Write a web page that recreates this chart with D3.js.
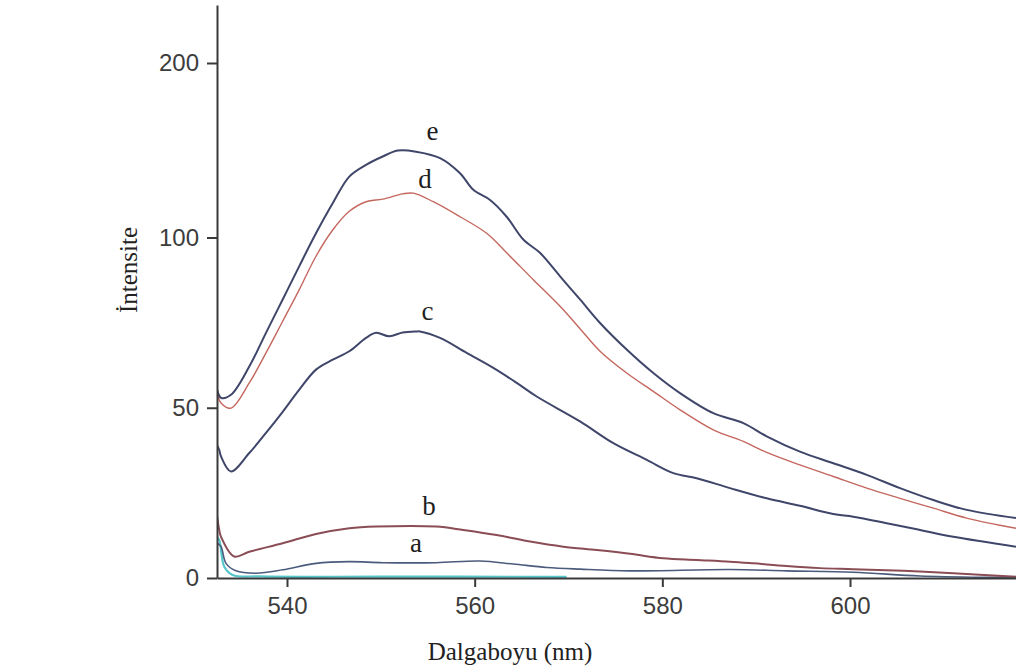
<!DOCTYPE html>
<html>
<head>
<meta charset="utf-8">
<script src="https://cdn.jsdelivr.net/npm/d3@7"></script>
<style>
  html, body { margin: 0; padding: 0; background: #ffffff; }
  svg { display: block; }
</style>
</head>
<body>
<svg id="chart" width="1016" height="672"></svg>
<script>
// ---- data (wavelength in nm, intensity) ----
const xTicks = [540, 560, 580, 600];
const yTicks = [0, 50, 100, 200];

const nmE = [532.54, 532.97, 534.03, 535.98, 537.76, 539.54, 541.31, 543.09, 544.87, 546.64, 548.42, 550.20, 551.80, 553.75, 556.31, 558.44, 559.86, 561.64, 563.41, 565.18, 566.96, 569.10, 571.23, 573.36, 576.20, 579.04, 581.88, 585.43, 588.63, 591.12, 594.66, 598.22, 601.78, 605.33, 608.88, 612.44, 617.69];
const valE = [55.5, 52.9, 53.8, 62.1, 72.0, 81.8, 91.6, 102.4, 119.6, 134.9, 141.6, 146.4, 149.8, 149.2, 145.5, 136.8, 127.3, 121.5, 111.9, 99.4, 95.5, 88.6, 81.8, 74.9, 67.1, 60.2, 54.3, 48.4, 45.5, 41.6, 37.1, 33.7, 30.3, 26.4, 22.9, 20.0, 17.6];

const nmD = [532.54, 532.97, 534.03, 535.98, 537.76, 539.54, 541.31, 543.09, 544.87, 546.64, 548.42, 550.20, 552.33, 553.46, 555.59, 558.44, 561.28, 563.41, 566.25, 569.10, 571.23, 573.36, 576.20, 579.04, 581.88, 585.43, 588.63, 591.12, 594.66, 598.22, 601.78, 605.33, 608.88, 612.44, 617.69];
const valD = [54.5, 51.4, 49.9, 57.3, 66.1, 75.4, 84.7, 94.5, 104.3, 115.0, 120.5, 122.0, 125.0, 125.4, 120.5, 111.9, 102.4, 95.5, 87.6, 79.8, 73.2, 66.6, 60.2, 54.8, 49.4, 43.5, 40.1, 36.9, 33.2, 29.8, 26.4, 23.4, 20.5, 17.6, 14.6];

const nmC = [532.54, 532.78, 532.97, 534.03, 535.98, 537.76, 539.54, 541.31, 543.09, 544.87, 546.64, 548.42, 549.49, 550.90, 552.33, 553.75, 554.17, 556.31, 559.15, 561.99, 564.48, 566.61, 571.23, 574.78, 578.34, 581.17, 583.66, 587.21, 591.12, 594.66, 598.22, 600.35, 603.91, 607.46, 611.01, 617.69];
const valC = [39.1, 37.6, 35.7, 31.3, 36.7, 42.6, 48.8, 55.3, 61.2, 64.1, 66.6, 70.5, 72.0, 71.0, 72.1, 72.4, 72.4, 70.5, 66.1, 61.7, 57.3, 53.3, 46.0, 39.6, 34.7, 30.8, 29.3, 26.4, 23.4, 21.2, 18.8, 18.0, 16.1, 14.1, 12.1, 9.2];

const nmB = [532.54, 532.78, 532.97, 534.38, 535.98, 539.54, 543.09, 546.64, 549.49, 555.88, 558.79, 562.35, 565.90, 569.45, 573.01, 576.56, 580.10, 583.66, 587.21, 589.70, 593.25, 596.80, 600.35, 605.68, 611.01, 617.69];
const valB = [18.5, 14.1, 12.1, 6.3, 7.7, 10.2, 12.9, 14.6, 15.1, 15.1, 14.1, 12.6, 10.7, 9.2, 8.2, 7.1, 5.8, 5.3, 4.8, 4.3, 3.5, 2.9, 2.6, 2.1, 1.4, 0.4];

const nmA = [532.54, 532.97, 533.50, 534.56, 536.70, 539.54, 543.09, 546.64, 550.20, 555.88, 560.57, 564.12, 567.68, 571.23, 576.56, 587.21, 593.25, 600.35, 607.46, 614.57, 617.69];
const valA = [10.3, 9.2, 4.3, 2.1, 1.4, 2.4, 4.3, 4.8, 4.5, 4.5, 5.0, 4.1, 3.1, 2.6, 2.1, 2.5, 2.1, 1.7, 0.6, 0.2, 0.15];

const nmBlank = [532.54, 532.78, 533.32, 534.21, 537.12, 550.00, 569.80];
const valBlank = [12.0, 11.2, 3.3, 0.9, 0.45, 0.4, 0.35];

const curveLabels = ["a", "b", "c", "d", "e"];
const labelNm = [553.75, 555.13, 554.97, 554.70, 555.50];
const labelVal = [7.7, 18.5, 75.9, 128.2, 155.6];

const xTitle = "Dalgaboyu (nm)";
const yTitle = "İntensite";

// ---- layout ----
const svg = d3.select("#chart");
const x0 = 217, x1 = 1016, yBase = 578;

const x = d3.scaleLinear().domain([532.54, 617.69]).range([x0, x1]);
// axis is non-uniform (0-100 stretched vs 100-200)
const y = d3.scaleLinear().domain([0, 100, 200, 233]).range([yBase, 237.5, 63, 5]);

const series = [
  { nm: nmBlank, v: valBlank, color: "#55c6cc", w: 2.2 },
  { nm: nmA, v: valA, color: "#4b5b7c", w: 1.6 },
  { nm: nmB, v: valB, color: "#8a4c55", w: 2.0 },
  { nm: nmC, v: valC, color: "#3f4669", w: 2.0 },
  { nm: nmD, v: valD, color: "#c4675f", w: 1.4 },
  { nm: nmE, v: valE, color: "#3f4669", w: 2.0 }
];

svg.append("defs").append("clipPath").attr("id", "plotclip")
  .append("rect").attr("x", x0).attr("y", 0).attr("width", x1 - x0).attr("height", yBase);

const line = d3.line()
  .x(d => x(d[0]))
  .y(d => y(d[1]))
  .curve(d3.curveCatmullRom.alpha(0.5));

const g = svg.append("g").attr("clip-path", "url(#plotclip)");
series.forEach(s => {
  const pts = s.nm.map((n, i) => [n, s.v[i]]);
  g.append("path")
    .attr("d", line(pts))
    .attr("fill", "none")
    .attr("stroke", s.color)
    .attr("stroke-width", s.w)
    .attr("stroke-linejoin", "round");
});

// ---- axes ----
const xAxis = d3.axisBottom(x).tickValues(xTicks).tickSize(9).tickSizeOuter(0).tickPadding(10);
const yAxis = d3.axisLeft(y).tickValues(yTicks).tickSize(10).tickSizeOuter(0).tickPadding(8);

const gx = svg.append("g").attr("transform", `translate(0,${yBase})`).call(xAxis);
const gy = svg.append("g").attr("transform", `translate(${x0},0)`).call(yAxis);

[gx, gy].forEach(ax => {
  ax.select(".domain").attr("stroke", "#3a3a3a").attr("stroke-width", 2);
  ax.selectAll(".tick line").attr("stroke", "#3a3a3a").attr("stroke-width", 2);
  ax.selectAll(".tick text")
    .attr("fill", "#3c3c3c")
    .style("font-family", "'Liberation Sans', Arial, sans-serif")
    .style("font-size", "24px");
});

// ---- titles ----
svg.append("text")
  .attr("x", 510).attr("y", 660)
  .attr("text-anchor", "middle")
  .style("font-family", "'Liberation Serif', 'Times New Roman', serif")
  .style("font-size", "25px")
  .attr("fill", "#222")
  .text(xTitle);

svg.append("text")
  .attr("transform", "translate(137,270) rotate(-90)")
  .attr("text-anchor", "middle")
  .style("font-family", "'Liberation Serif', 'Times New Roman', serif")
  .style("font-size", "25px")
  .attr("fill", "#222")
  .text(yTitle);

// ---- curve labels ----
curveLabels.forEach((t, i) => {
  svg.append("text")
    .attr("x", x(labelNm[i])).attr("y", y(labelVal[i]))
    .attr("text-anchor", "middle")
    .style("font-family", "'Liberation Serif', 'Times New Roman', serif")
    .style("font-size", "27px")
    .attr("fill", "#1e1e1e")
    .text(t);
});
</script>
</body>
</html>
